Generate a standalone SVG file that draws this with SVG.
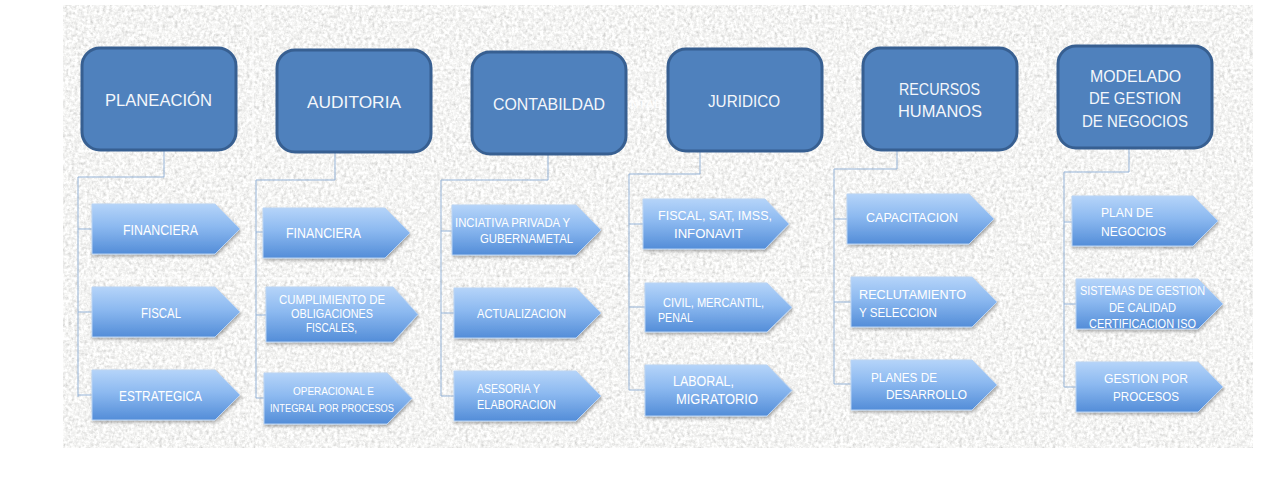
<svg xmlns="http://www.w3.org/2000/svg" width="1280" height="489" viewBox="0 0 1280 489">
<defs>
<style>
.hdr rect{fill:#4f81bd;stroke:#375f91;stroke-width:3}
.hdr text{font-family:"Liberation Sans",Arial,sans-serif;font-size:17px;fill:#f4f7fb}
.ch polygon{fill:url(#cg);stroke:#b9d3f3;stroke-width:1;filter:url(#sh)}
.ch text{font-family:"Liberation Sans",Arial,sans-serif;font-size:13.5px;fill:#ffffff}
.ch text.s{font-size:12.5px}
.ch text.xs{font-size:11px}
.ch text.l{font-size:14px}
.cn path{fill:none;stroke:#95b3d7;stroke-width:1}
.seam{stroke:#ffffff;stroke-opacity:0.45;stroke-width:2}
</style>
<linearGradient id="cg" x1="0" y1="0" x2="0" y2="1">
<stop offset="0" stop-color="#b5d4f9"/>
<stop offset="0.45" stop-color="#8cb9f0"/>
<stop offset="1" stop-color="#538dd8"/>
</linearGradient>
<filter id="sh" x="-10%" y="-10%" width="125%" height="140%">
<feDropShadow dx="1" dy="2" stdDeviation="1.5" flood-color="#000" flood-opacity="0.3"/>
</filter>
<filter id="granite" x="0" y="0" width="1" height="1" filterUnits="objectBoundingBox">
<feTurbulence type="fractalNoise" baseFrequency="0.32" numOctaves="3" seed="5" result="t"/>
<feColorMatrix in="t" type="matrix" values="0.33 0.33 0.33 0 0 0.33 0.33 0.33 0 0 0.33 0.33 0.33 0 0 0 0 0 0 1" result="g"/>
<feComponentTransfer in="g">
<feFuncR type="linear" slope="1.1" intercept="0.36"/>
<feFuncG type="linear" slope="1.1" intercept="0.36"/>
<feFuncB type="linear" slope="1.1" intercept="0.35"/>
</feComponentTransfer>
</filter>
</defs>
<rect x="0" y="0" width="1280" height="489" fill="#ffffff"/>
<rect x="63" y="5" width="1190" height="443" fill="#e4e4e2" filter="url(#granite)"/>
<g id="seams">
<line class="seam" x1="63" y1="68" x2="1253" y2="68"/>
<line class="seam" x1="63" y1="278" x2="1253" y2="278"/>
<line class="seam" x1="253" y1="5" x2="253" y2="448"/>
</g>
<text x="630" y="108" font-family="Liberation Sans,Arial,sans-serif" font-size="10" font-weight="bold" fill="#ffffff" fill-opacity="0.85" textLength="33" lengthAdjust="spacingAndGlyphs">NTAB</text>

<g id="connectors" class="cn">
<path d="M164,150 V177 H78 V397 M78,229 H92 M78,312 H92 M78,395 H92"/>
<path d="M335,152 V180 H256 V398 M256,232 H263 M256,315 H266 M256,398 H264"/>
<path d="M548,154 V180 H441 V396 M441,231 H452 M441,313 H454 M441,396 H454"/>
<path d="M700,151 V174 H629 V390 M629,224 H643 M629,307 H645 M629,390 H645"/>
<path d="M897,150 V169 H834 V384 M834,219 H847 M834,302 H851 M834,384 H851"/>
<path d="M1129,148 V172 H1064 V387 M1064,222 H1072 M1064,304 H1076 M1064,387 H1076"/>
</g>

<g id="planeacion" class="hdr"><rect x="82" y="48" width="154" height="102" rx="18"/><text x="105" y="106" textLength="107" lengthAdjust="spacingAndGlyphs">PLANEACIÓN</text></g>
<g id="auditoria" class="hdr"><rect x="277" y="50" width="154" height="102" rx="18"/><text x="307" y="108" textLength="94" lengthAdjust="spacingAndGlyphs">AUDITORIA</text></g>
<g id="contabilidad" class="hdr"><rect x="472" y="52" width="154" height="102" rx="18"/><text x="493" y="110" textLength="112" lengthAdjust="spacingAndGlyphs">CONTABILDAD</text></g>
<g id="juridico" class="hdr"><rect x="668" y="49" width="154" height="102" rx="18"/><text x="708" y="107" textLength="72" lengthAdjust="spacingAndGlyphs">JURIDICO</text></g>
<g id="recursos" class="hdr"><rect x="863" y="48" width="154" height="102" rx="18"/><text x="899" y="95" textLength="81" lengthAdjust="spacingAndGlyphs">RECURSOS</text><text x="898" y="117" textLength="84" lengthAdjust="spacingAndGlyphs">HUMANOS</text></g>
<g id="modelado" class="hdr"><rect x="1058" y="46" width="154" height="102" rx="18"/><text x="1090" y="82" textLength="91" lengthAdjust="spacingAndGlyphs">MODELADO</text><text x="1089" y="104" textLength="92" lengthAdjust="spacingAndGlyphs">DE GESTION</text><text x="1082" y="127" textLength="106" lengthAdjust="spacingAndGlyphs">DE NEGOCIOS</text></g>

<g id="p-financiera" class="ch"><polygon points="92,204 215,204 240,229 215,254 92,254"/><text class="l" x="123" y="235" textLength="75" lengthAdjust="spacingAndGlyphs">FINANCIERA</text></g>
<g id="p-fiscal" class="ch"><polygon points="92,287 215,287 240,312 215,337 92,337"/><text class="l" x="141" y="318" textLength="40" lengthAdjust="spacingAndGlyphs">FISCAL</text></g>
<g id="p-estrategica" class="ch"><polygon points="92,370 215,370 240,395 215,420 92,420"/><text class="l" x="119" y="401" textLength="83" lengthAdjust="spacingAndGlyphs">ESTRATEGICA</text></g>

<g id="a-financiera" class="ch"><polygon points="263,208 385,208 410,233 385,258 263,258"/><text class="l" x="286" y="238" textLength="75" lengthAdjust="spacingAndGlyphs">FINANCIERA</text></g>
<g id="a-cumplimiento" class="ch"><polygon points="266,287 393,287 418,314.5 393,342 266,342"/><text class="s" x="279" y="304" textLength="106" lengthAdjust="spacingAndGlyphs">CUMPLIMIENTO DE</text><text class="s" x="291" y="318" textLength="82" lengthAdjust="spacingAndGlyphs">OBLIGACIONES</text><text class="s" x="306" y="332" textLength="51" lengthAdjust="spacingAndGlyphs">FISCALES,</text></g>
<g id="a-operacional" class="ch"><polygon points="264,373 387,373 412,398.5 387,424 264,424"/><text class="xs" x="293" y="395" textLength="81" lengthAdjust="spacingAndGlyphs">OPERACIONAL  E</text><text class="xs" x="270" y="412" textLength="124" lengthAdjust="spacingAndGlyphs">INTEGRAL POR PROCESOS</text></g>

<g id="c-iniciativa" class="ch"><polygon points="452,205 576,205 601,230 576,255 452,255"/><text class="s" x="455" y="227" textLength="115" lengthAdjust="spacingAndGlyphs">INCIATIVA PRIVADA Y</text><text class="s" x="480" y="243" textLength="93" lengthAdjust="spacingAndGlyphs">GUBERNAMETAL</text></g>
<g id="c-actualizacion" class="ch"><polygon points="454,288 576,288 601,313 576,338 454,338"/><text x="477" y="318" textLength="89" lengthAdjust="spacingAndGlyphs">ACTUALIZACION</text></g>
<g id="c-asesoria" class="ch"><polygon points="454,371 576,371 601,396 576,421 454,421"/><text x="477" y="393" textLength="63" lengthAdjust="spacingAndGlyphs">ASESORIA Y</text><text x="477" y="409" textLength="79" lengthAdjust="spacingAndGlyphs">ELABORACION</text></g>

<g id="j-fiscal" class="ch"><polygon points="643,199 765,199 789,224 765,249 643,249"/><text x="658" y="220" textLength="114" lengthAdjust="spacingAndGlyphs">FISCAL, SAT, IMSS,</text><text x="674" y="238" textLength="69" lengthAdjust="spacingAndGlyphs">INFONAVIT</text></g>
<g id="j-civil" class="ch"><polygon points="645,283 767,283 792,307.5 767,332 645,332"/><text x="663" y="307" textLength="101" lengthAdjust="spacingAndGlyphs">CIVIL, MERCANTIL,</text><text x="658" y="322" textLength="35" lengthAdjust="spacingAndGlyphs">PENAL</text></g>
<g id="j-laboral" class="ch"><polygon points="645,365 767,365 792,390.5 767,416 645,416"/><text class="l" x="673" y="386" textLength="61" lengthAdjust="spacingAndGlyphs">LABORAL,</text><text class="l" x="676" y="404" textLength="82" lengthAdjust="spacingAndGlyphs">MIGRATORIO</text></g>

<g id="r-capacitacion" class="ch"><polygon points="847,194 969,194 994,219 969,244 847,244"/><text x="866" y="222" textLength="92" lengthAdjust="spacingAndGlyphs">CAPACITACION</text></g>
<g id="r-reclutamiento" class="ch"><polygon points="851,277 972,277 997,302 972,327 851,327"/><text x="859" y="299" textLength="107" lengthAdjust="spacingAndGlyphs">RECLUTAMIENTO</text><text x="859" y="317" textLength="78" lengthAdjust="spacingAndGlyphs">Y SELECCION</text></g>
<g id="r-planes" class="ch"><polygon points="851,360 972,360 997,385 972,410 851,410"/><text x="871" y="382" textLength="66" lengthAdjust="spacingAndGlyphs">PLANES DE</text><text x="886" y="399" textLength="81" lengthAdjust="spacingAndGlyphs">DESARROLLO</text></g>

<g id="m-plan" class="ch"><polygon points="1072,196 1193,196 1218,221 1193,246 1072,246"/><text x="1101" y="217" textLength="52" lengthAdjust="spacingAndGlyphs">PLAN DE</text><text x="1101" y="236" textLength="65" lengthAdjust="spacingAndGlyphs">NEGOCIOS</text></g>
<g id="m-sistemas" class="ch"><polygon points="1076,279 1198,279 1223,304 1198,329 1076,329"/><text class="s" x="1080" y="295" textLength="125" lengthAdjust="spacingAndGlyphs">SISTEMAS DE GESTION</text><text class="s" x="1109" y="312" textLength="67" lengthAdjust="spacingAndGlyphs">DE CALIDAD</text><text class="s" x="1089" y="328" textLength="107" lengthAdjust="spacingAndGlyphs">CERTIFICACION ISO</text></g>
<g id="m-gestion" class="ch"><polygon points="1076,362 1198,362 1223,387 1198,412 1076,412"/><text x="1104" y="383" textLength="84" lengthAdjust="spacingAndGlyphs">GESTION POR</text><text x="1113" y="401" textLength="66" lengthAdjust="spacingAndGlyphs">PROCESOS</text></g>
</svg>
